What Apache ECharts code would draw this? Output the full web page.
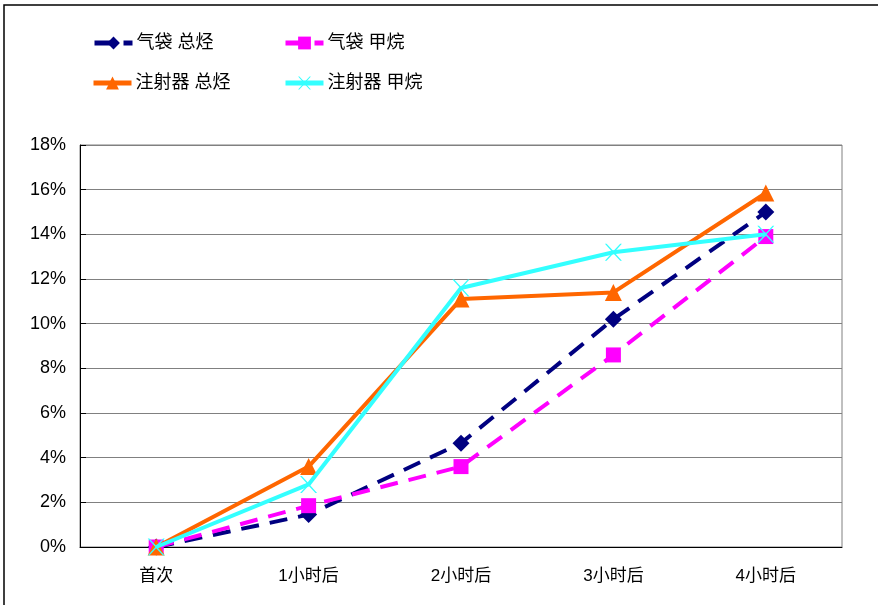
<!DOCTYPE html>
<html>
<head>
<meta charset="utf-8">
<script src="https://cdn.jsdelivr.net/npm/echarts@6/dist/echarts.min.js"></script>
<style>
    html, body { margin: 0; padding: 0; background: #fff; }
    #divChart { width: 878px; height: 605px; }
</style>
</head>
<body>
<div id="divChart"></div>
<script>
var categories = ['首次', '1小时后', '2小时后', '3小时后', '4小时后'];
var bagTotal = [0, 1.45, 4.65, 10.2, 15.0];        // 气袋 总烃
var bagMethane = [0, 1.85, 3.6, 8.6, 13.9];        // 气袋 甲烷
var syringeTotal = [0, 3.6, 11.1, 11.4, 15.85];    // 注射器 总烃
var syringeMethane = [0, 2.8, 11.6, 13.2, 14.0];   // 注射器 甲烷
var seriesNames = ['气袋 总烃', '气袋 甲烷', '注射器 总烃', '注射器 甲烷'];

var FONT = '"Liberation Sans", Arial, "Noto Sans CJK SC", sans-serif';
var crossPath = 'path://M0,0 L2,0 L10,8.6 L18,0 L20,0 L11,10 L20,20 L18,20 L10,11.4 L2,20 L0,20 L9,10 Z';

var myChart = echarts.init(document.getElementById('divChart'));

function legendAt(name, left, top) {
    return {
        data: [name],
        left: left,
        top: top,
        padding: 0,
        itemWidth: 38,
        itemHeight: 16,
        itemGap: 4,
        lineStyle: { width: 5 },
        textStyle: { fontFamily: FONT, fontSize: 18, color: '#000', padding: [0, 0, 0, -1] }
    };
}

var option = {
    animation: false,
    backgroundColor: '#fff',
    graphic: [{
        type: 'rect',
        shape: { x: 4, y: 5, width: 900, height: 620 },
        style: { fill: null, stroke: '#000', lineWidth: 1.5 },
        silent: true
    }],
    legend: [
        legendAt(seriesNames[0], 92, 34),
        legendAt(seriesNames[1], 283, 34),
        legendAt(seriesNames[2], 91, 74),
        legendAt(seriesNames[3], 283, 74)
    ],
    grid: {
        left: 80, top: 145, right: 36, bottom: 58,
        show: true, borderColor: '#808080', borderWidth: 1
    },
    xAxis: {
        type: 'category',
        data: categories,
        boundaryGap: true,
        axisLine: { lineStyle: { color: '#000', width: 1 } },
        axisTick: { inside: true, length: 5, lineStyle: { color: '#000' } },
        axisLabel: { margin: 21, fontFamily: FONT, fontSize: 17, color: '#000' }
    },
    yAxis: {
        type: 'value',
        min: 0, max: 18, interval: 2,
        axisLine: { show: true, lineStyle: { color: '#000', width: 1 } },
        axisTick: { show: true, inside: true, length: 6, lineStyle: { color: '#000' } },
        axisLabel: { margin: 14, fontFamily: FONT, fontSize: 18, color: '#000', formatter: '{value}%' },
        splitLine: { lineStyle: { color: '#808080', width: 1 } }
    },
    series: [{
        name: seriesNames[0],
        type: 'line',
        data: bagTotal,
        symbol: 'diamond',
        symbolSize: 17,
        itemStyle: { color: '#000080' },
        lineStyle: { color: '#000080', width: 4, type: [18, 11] },
        z: 2
    }, {
        name: seriesNames[1],
        type: 'line',
        data: bagMethane,
        symbol: 'rect',
        symbolSize: 15,
        itemStyle: { color: '#ff00ff' },
        lineStyle: { color: '#ff00ff', width: 4, type: [18, 11] },
        z: 3
    }, {
        name: seriesNames[2],
        type: 'line',
        data: syringeTotal,
        symbol: 'triangle',
        symbolSize: 17,
        itemStyle: { color: '#ff6600' },
        lineStyle: { color: '#ff6600', width: 4 },
        z: 4
    }, {
        name: seriesNames[3],
        type: 'line',
        data: syringeMethane,
        symbol: crossPath,
        symbolSize: 17,
        itemStyle: { color: '#33ffff' },
        lineStyle: { color: '#33ffff', width: 4 },
        z: 5
    }]
};

myChart.setOption(option);
</script>
</body>
</html>
